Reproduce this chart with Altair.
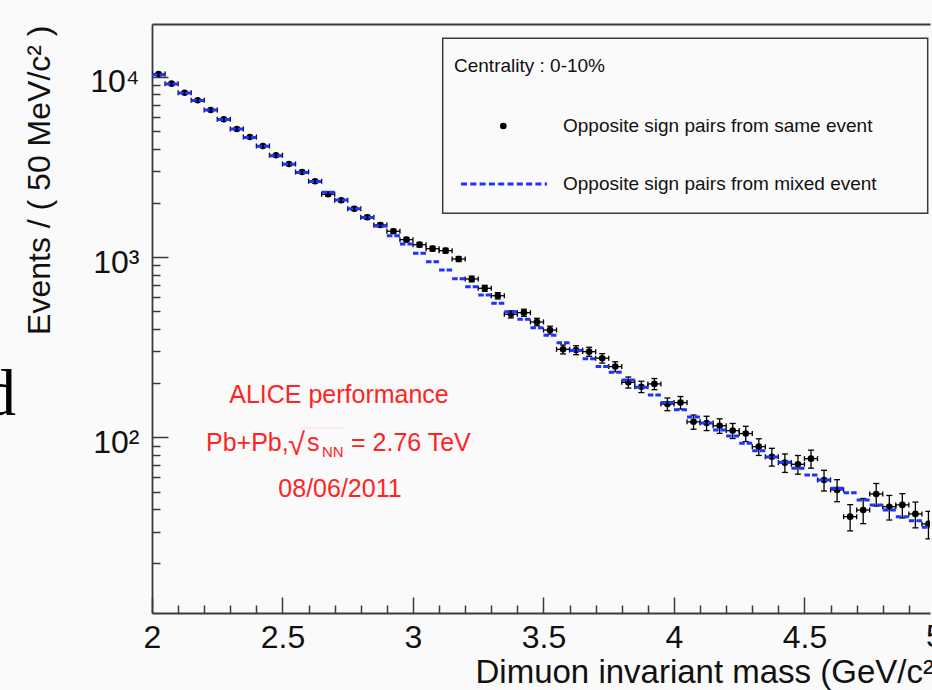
import altair as alt
import pandas as pd

# ---------------- data ----------------
mass_lo = [2.00, 2.05, 2.10, 2.15, 2.20, 2.25, 2.30, 2.35, 2.40, 2.45,
           2.50, 2.55, 2.60, 2.65, 2.70, 2.75, 2.80, 2.85, 2.90, 2.95,
           3.00, 3.05, 3.10, 3.15, 3.20, 3.25, 3.30, 3.35, 3.40, 3.45,
           3.50, 3.55, 3.60, 3.65, 3.70, 3.75, 3.80, 3.85, 3.90, 3.95,
           4.00, 4.05, 4.10, 4.15, 4.20, 4.25, 4.30, 4.35, 4.40, 4.45,
           4.50, 4.55, 4.60, 4.65, 4.70, 4.75, 4.80, 4.85, 4.90, 4.95]
bin_width = 0.05

same_event = [10390, 9180, 8180, 7425, 6560, 5826, 5146, 4645, 4141, 3677,
              3290, 2970, 2638, 2234, 2069, 1858, 1665, 1509, 1392, 1251,
              1173, 1115, 1087, 977, 757, 672, 611, 482, 492, 437,
              394, 308, 305, 299, 275, 247, 202, 191, 198, 153,
              156, 122, 120, 116, 109, 105, 88.8, 78.1, 72.4, 70.9,
              76.2, 58.0, 51.1, 36.3, 39.5, 48.5, 41.2, 42.2, 37.6, 33.1]

mixed_event = [10300, 9150, 8150, 7400, 6550, 5800, 5150, 4620, 4130, 3660,
               3280, 2950, 2630, 2292, 2075, 1858, 1660, 1490, 1316, 1184,
               1051, 944, 849, 760, 686, 617, 555, 498, 452, 406,
               369, 335, 303, 273, 247, 230, 208, 190, 172, 156,
               142.5, 129.8, 120, 110, 101.8, 92.7, 84.4, 77.9, 72.7, 67.4,
               61.8, 58.0, 52.2, 49.3, 44.9, 42.2, 39.5, 36.3, 34.5, 31.7]

x_major = [2.0, 2.5, 3.0, 3.5, 4.0, 4.5]
x_minor = [2.1, 2.2, 2.3, 2.4, 2.6, 2.7, 2.8, 2.9, 3.1, 3.2, 3.3, 3.4,
           3.6, 3.7, 3.8, 3.9, 4.1, 4.2, 4.3, 4.4, 4.6, 4.7, 4.8, 4.9]
y_major = [100, 1000, 10000]
y_minor = [20, 30, 40, 50, 60, 70, 80, 90,
           200, 300, 400, 500, 600, 700, 800, 900,
           2000, 3000, 4000, 5000, 6000, 7000, 8000, 9000]

x_title = "Dimuon invariant mass (GeV/c\u00b2)"
y_title = "Events / ( 50 MeV/c\u00b2 )"
legend_header = "Centrality : 0-10%"
legend_same = "Opposite sign pairs from same event"
legend_mixed = "Opposite sign pairs from mixed event"
alice_1 = "ALICE performance"
alice_2a = "Pb+Pb,"
alice_2b = "\u221a"
alice_2c = "s"
alice_2d = "NN"
alice_2e = "= 2.76 TeV"
alice_3 = "08/06/2011"

# ---------------- styling ----------------
W, H = 778, 589
FONT = "Liberation Sans"
AX = "#3a3a3a"
BLUE = "#1f32ff"
RED = "#ff2424"
BG = "#fafafa"
TXT = "#111111"

df = pd.DataFrame({"lo": mass_lo, "same": same_event, "mixed": mixed_event})
one = pd.DataFrame({"k": [0]})

xscale = alt.Scale(domain=[2.0, 4.981], nice=False, zero=False)
yscale = alt.Scale(type="log", domain=[10.6, 19680], nice=False)

ax_bottom = alt.Axis(orient="bottom", values=x_major, format="~g", ticks=False, tickSize=0,
                     domain=True, domainColor=AX, domainWidth=1.8, grid=False,
                     labelFont=FONT, labelFontSize=32, labelColor=TXT, labelBaseline="alphabetic",
                     labelPadding=34, labelFlush=False, labelOverlap=False,
                     title=x_title, titleFont=FONT, titleFontSize=33, titleFontWeight="normal",
                     titleColor=TXT, titleX=323, titleY=69, titleAlign="left",
                     titleBaseline="alphabetic")
ax_left = alt.Axis(orient="left", values=y_major,
                   labelExpr="datum.value == 100 ? '10\u00b2' : datum.value == 1000 ? '10\u00b3' : '10\u2074'",
                   ticks=False, tickSize=0, domain=True, domainColor=AX, domainWidth=1.8, grid=False,
                   labelFont=FONT, labelFontSize=32, labelColor=TXT, labelAlign="right",
                   labelBaseline="alphabetic", labelPadding=13, labelOffset=15,
                   labelFlush=False, labelOverlap=False,
                   title=y_title, titleFont=FONT, titleFontSize=32, titleFontWeight="normal",
                   titleColor=TXT, titleX=-103, titleY=1, titleAngle=270, titleAlign="right",
                   titleBaseline="alphabetic")
ax_top_major = alt.Axis(orient="top", offset=-H, values=x_major, ticks=True, tickSize=16,
                        tickColor=AX, tickWidth=1.5, labels=False, domain=False, grid=False, title=None)
ax_top_minor = alt.Axis(orient="top", offset=-H, values=x_minor, ticks=True, tickSize=8,
                        tickColor=AX, tickWidth=1.5, labels=False, domain=False, grid=False, title=None)
ax_top_frame = alt.Axis(orient="top", ticks=False, labels=False, domain=True, domainColor=AX,
                        domainWidth=1.8, grid=False, title=None)
ax_right_major = alt.Axis(orient="right", offset=-W, values=y_major, ticks=True, tickSize=16,
                          tickColor=AX, tickWidth=1.5, labels=False, domain=False, grid=False, title=None)
ax_right_minor = alt.Axis(orient="right", offset=-W, values=y_minor, ticks=True, tickSize=8,
                          tickColor=AX, tickWidth=1.5, labels=False, domain=False, grid=False, title=None)

base = alt.Chart(df).transform_calculate(
    hi=f"datum.lo + {bin_width}",
    c=f"datum.lo + {bin_width / 2}",
    ylo="datum.same - sqrt(datum.same)",
    yhi="datum.same + sqrt(datum.same)",
)

# horizontal error bars (bin width)
h_err = base.mark_rule(color="black", strokeWidth=1.3, clip=True).encode(
    x=alt.X("lo:Q", scale=xscale, axis=ax_bottom),
    x2="hi:Q",
    y=alt.Y("same:Q", scale=yscale, axis=ax_left),
)
# vertical error bars (Poisson)
v_err = base.mark_rule(color="black", strokeWidth=1.3, clip=True).encode(
    x=alt.X("c:Q", scale=xscale, axis=ax_top_major),
    y=alt.Y("ylo:Q", scale=yscale, axis=ax_right_major),
    y2="yhi:Q",
)
cap_top = base.mark_rule(color="black", strokeWidth=1.3, xOffset=-3, x2Offset=3, clip=True).encode(
    x=alt.X("c:Q", scale=xscale, axis=ax_top_minor),
    x2="c:Q",
    y=alt.Y("yhi:Q", scale=yscale, axis=ax_right_minor),
)
cap_bot = base.mark_rule(color="black", strokeWidth=1.3, xOffset=-3, x2Offset=3, clip=True).encode(
    x=alt.X("c:Q", scale=xscale, axis=ax_top_frame),
    x2="c:Q",
    y=alt.Y("ylo:Q", scale=yscale, axis=None),
)
cap_lo = base.mark_rule(color="black", strokeWidth=1.3, yOffset=-2.5, y2Offset=2.5, clip=True).encode(
    x=alt.X("lo:Q", scale=xscale, axis=None),
    y=alt.Y("same:Q", scale=yscale, axis=None),
    y2="same:Q",
)
cap_hi = base.mark_rule(color="black", strokeWidth=1.3, yOffset=-2.5, y2Offset=2.5, clip=True).encode(
    x=alt.X("hi:Q", scale=xscale, axis=None),
    y=alt.Y("same:Q", scale=yscale, axis=None),
    y2="same:Q",
)
pts = base.mark_circle(color="black", size=44, opacity=1, clip=True).encode(
    x=alt.X("c:Q", scale=xscale, axis=None),
    y=alt.Y("same:Q", scale=yscale, axis=None),
)
mixed = base.mark_rule(color=BLUE, strokeWidth=3, strokeDash=[5.5, 2], clip=True).encode(
    x=alt.X("lo:Q", scale=xscale, axis=None),
    x2="hi:Q",
    y=alt.Y("mixed:Q", scale=yscale, axis=None),
)

# ---------------- legend box ----------------
ann = alt.Chart(one)
leg_box = ann.mark_rect(filled=False, stroke=AX, strokeWidth=1.5).encode(
    x=alt.value(290.7), x2=alt.value(775.7), y=alt.value(14.3), y2=alt.value(189.3))
leg_head = ann.mark_text(font=FONT, fontSize=19, color=TXT, align="left", baseline="alphabetic").encode(
    x=alt.value(302), y=alt.value(47.7), text=alt.value(legend_header))
leg_dot = ann.mark_circle(color="black", size=44, opacity=1).encode(x=alt.value(351.3), y=alt.value(102))
leg_t1 = ann.mark_text(font=FONT, fontSize=19, color=TXT, align="left", baseline="alphabetic").encode(
    x=alt.value(411), y=alt.value(107.7), text=alt.value(legend_same))
leg_line = ann.mark_rule(color=BLUE, strokeWidth=3, strokeDash=[6, 3.3]).encode(
    x=alt.value(309), x2=alt.value(395), y=alt.value(160))
leg_t2 = ann.mark_text(font=FONT, fontSize=19, color=TXT, align="left", baseline="alphabetic").encode(
    x=alt.value(411), y=alt.value(166), text=alt.value(legend_mixed))

# ---------------- red annotation ----------------
def red(txt, x, y, size=25, align="left"):
    return ann.mark_text(font=FONT, fontSize=size, color=RED, align=align, baseline="alphabetic").encode(
        x=alt.value(x), y=alt.value(y), text=alt.value(txt))

r1 = red(alice_1, 187, 379, align="center")
r2a = red(alice_2a, 54, 427)
r2b = red(alice_2b, 136, 431, size=31)
r2c = red(alice_2c, 155, 427)
r2d = red(alice_2d, 170, 432.7, size=15)
r2e = red(alice_2e, 199, 427)
r3 = red(alice_3, 188, 472.7, align="center")
overline = ann.mark_rule(color="#ffb8b8", strokeWidth=1, strokeDash=[1, 1]).encode(
    x=alt.value(150), x2=alt.value(191), y=alt.value(404))

# ---------------- cut-off pieces of the slide ----------------
five = ann.mark_text(font=FONT, fontSize=32, color=TXT, align="center", baseline="alphabetic").encode(
    x=alt.value(783), y=alt.value(H + 34), text=alt.value("5"))
slide_d = ann.mark_text(font="Liberation Serif", fontSize=66, color="black", align="right",
                        baseline="alphabetic").encode(
    x=alt.value(-136), y=alt.value(391), text=alt.value("d"))

chart = alt.layer(
    h_err, v_err, cap_top, cap_bot, cap_lo, cap_hi, pts, mixed,
    leg_box, leg_head, leg_dot, leg_t1, leg_line, leg_t2,
    r1, r2a, r2b, r2c, r2d, r2e, r3, overline, five, slide_d,
).resolve_axis(x="independent", y="independent").properties(
    width=W, height=H,
    autosize=alt.AutoSizeParams(type="none"),
    padding={"left": 152, "top": 24, "right": 2, "bottom": 77},
    background=BG,
).configure_view(stroke=None)

chart.save("out.html", embed_options={"renderer": "svg", "actions": False})
